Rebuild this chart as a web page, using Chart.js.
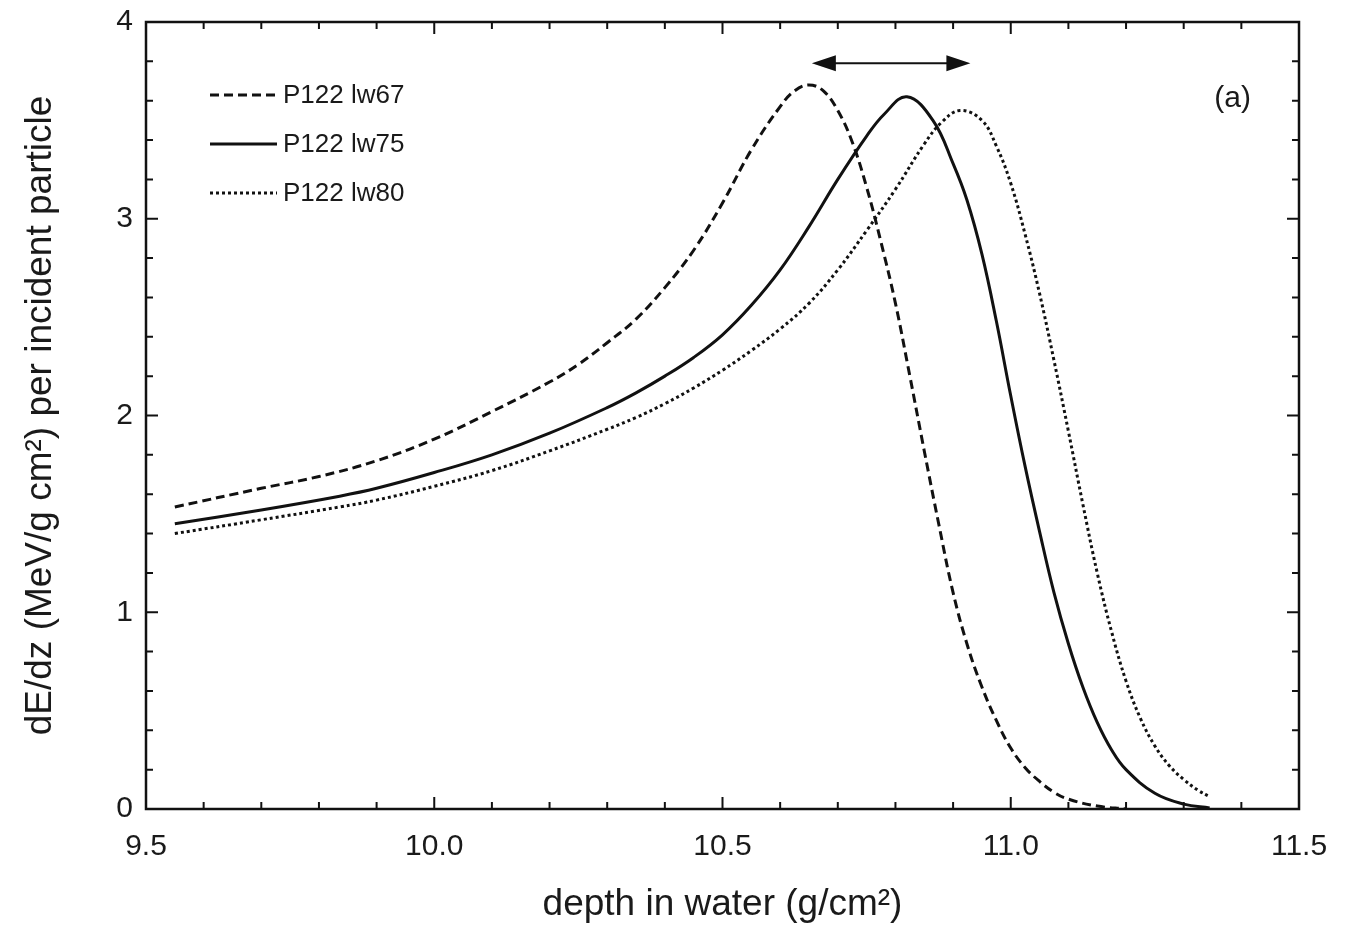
<!DOCTYPE html>
<html>
<head>
<meta charset="utf-8">
<script src="https://cdn.jsdelivr.net/npm/chart.js@4.4.0/dist/chart.umd.min.js"></script>
<style>
html, body { margin: 0; padding: 0; background: #fff; }
</style>
</head>
<body>
<canvas id="chart" width="1351" height="927"></canvas>
<script>
// dose curves, depth in g/cm2, dE/dz in MeV/(g cm2)
const seriesLabels = ['P122 lw67', 'P122 lw75', 'P122 lw80'];

const depth67 = [9.55, 9.7, 9.8, 9.9, 10.0, 10.1, 10.2, 10.25, 10.3, 10.35, 10.4, 10.45, 10.5, 10.55, 10.6, 10.625, 10.65, 10.675, 10.7, 10.725, 10.75, 10.775, 10.8, 10.825, 10.85, 10.875, 10.9, 10.925, 10.95, 10.975, 11.0, 11.025, 11.05, 11.075, 11.1, 11.15, 11.2];
const dose67  = [1.535, 1.63, 1.69, 1.77, 1.88, 2.02, 2.17, 2.26, 2.37, 2.49, 2.65, 2.84, 3.08, 3.35, 3.57, 3.65, 3.68, 3.65, 3.55, 3.39, 3.16, 2.88, 2.57, 2.2, 1.82, 1.45, 1.1, 0.83, 0.62, 0.45, 0.31, 0.21, 0.14, 0.085, 0.05, 0.015, 0.0];

const depth75 = [9.55, 9.7, 9.836, 9.9, 10.0, 10.1, 10.2, 10.3, 10.35, 10.4, 10.45, 10.5, 10.55, 10.6, 10.65, 10.7, 10.75, 10.78, 10.82, 10.865, 10.9, 10.924, 10.95, 10.975, 11.0, 11.025, 11.05, 11.075, 11.1, 11.125, 11.15, 11.175, 11.2, 11.25, 11.3, 11.345];
const dose75  = [1.45, 1.52, 1.59, 1.63, 1.71, 1.80, 1.91, 2.04, 2.115, 2.2, 2.295, 2.41, 2.56, 2.74, 2.96, 3.2, 3.42, 3.53, 3.62, 3.50, 3.28, 3.095, 2.82, 2.48, 2.1, 1.74, 1.41, 1.1, 0.84, 0.62, 0.44, 0.3, 0.2, 0.08, 0.025, 0.005];

const depth80 = [9.55, 9.7, 9.836, 9.9, 10.0, 10.1, 10.2, 10.3, 10.35, 10.4, 10.45, 10.5, 10.55, 10.6, 10.65, 10.7, 10.75, 10.8, 10.85, 10.88, 10.912, 10.95, 10.975, 11.0, 11.025, 11.05, 11.075, 11.1, 11.125, 11.15, 11.175, 11.2, 11.225, 11.25, 11.275, 11.3, 11.325, 11.345];
const dose80  = [1.40, 1.47, 1.535, 1.57, 1.64, 1.72, 1.82, 1.93, 1.99, 2.06, 2.14, 2.23, 2.33, 2.44, 2.57, 2.74, 2.94, 3.15, 3.38, 3.49, 3.55, 3.5, 3.37, 3.18, 2.92, 2.62, 2.28, 1.92, 1.55, 1.2, 0.9, 0.65, 0.46, 0.32, 0.22, 0.15, 0.095, 0.063];

const xTickLabels = ['9.5', '10.0', '10.5', '11.0', '11.5'];
const yTickLabels = ['0', '1', '2', '3', '4'];

// shift between the peaks, marked with a double arrow
const arrowSpan = [10.655, 10.93];
const arrowLevel = 3.79;

function zip(xs, ys) {
  return xs.map((v, i) => ({ x: v, y: ys[i] }));
}

const ink = '#111';
const font = 'Helvetica, "Liberation Sans", Arial, sans-serif';

const boxAndTicks = {
  id: 'boxAndTicks',
  afterDatasetsDraw(chart) {
    const { ctx, chartArea: a, scales: { x, y } } = chart;
    ctx.save();
    ctx.strokeStyle = ink;
    ctx.lineWidth = 2;
    ctx.beginPath();
    for (let i = 0; i <= 20; i++) {
      const px = x.getPixelForValue(9.5 + i * 0.1);
      const len = i % 5 === 0 ? 12 : 7;
      ctx.moveTo(px, a.bottom); ctx.lineTo(px, a.bottom - len);
      ctx.moveTo(px, a.top); ctx.lineTo(px, a.top + len);
    }
    for (let i = 0; i <= 20; i++) {
      const py = y.getPixelForValue(i * 0.2);
      const len = i % 5 === 0 ? 12 : 7;
      ctx.moveTo(a.left, py); ctx.lineTo(a.left + len, py);
      ctx.moveTo(a.right, py); ctx.lineTo(a.right - len, py);
    }
    ctx.stroke();
    ctx.lineWidth = 2.5;
    ctx.strokeRect(a.left, a.top, a.right - a.left, a.bottom - a.top);

    // legend
    ctx.font = '26px ' + font;
    ctx.fillStyle = '#1a1a1a';
    ctx.textBaseline = 'middle';
    chart.data.datasets.forEach((ds, i) => {
      const ly = 95 + i * 49;
      ctx.beginPath();
      ctx.lineWidth = ds.borderWidth;
      ctx.setLineDash(ds.borderDash || []);
      ctx.moveTo(210, ly); ctx.lineTo(277, ly);
      ctx.stroke();
      ctx.setLineDash([]);
      ctx.fillText(ds.label, 283, ly + 1);
    });

    ctx.font = '30px ' + font;
    ctx.textAlign = 'right';
    ctx.fillText('(a)', 1251, 99);

    // double arrow
    const x0 = x.getPixelForValue(arrowSpan[0]);
    const x1 = x.getPixelForValue(arrowSpan[1]);
    const ay = y.getPixelForValue(arrowLevel);
    const head = 24, half = 8;
    ctx.lineWidth = 2;
    ctx.beginPath();
    ctx.moveTo(x0 + head - 2, ay); ctx.lineTo(x1 - head + 2, ay);
    ctx.stroke();
    ctx.fillStyle = ink;
    ctx.beginPath();
    ctx.moveTo(x0, ay); ctx.lineTo(x0 + head, ay - half); ctx.lineTo(x0 + head, ay + half); ctx.closePath();
    ctx.moveTo(x1, ay); ctx.lineTo(x1 - head, ay - half); ctx.lineTo(x1 - head, ay + half); ctx.closePath();
    ctx.fill();
    ctx.restore();
  }
};

new Chart(document.getElementById('chart'), {
  type: 'scatter',
  data: {
    datasets: [
      { label: seriesLabels[0], data: zip(depth67, dose67), borderDash: [9, 5] },
      { label: seriesLabels[1], data: zip(depth75, dose75), borderDash: [] },
      { label: seriesLabels[2], data: zip(depth80, dose80), borderDash: [3, 3] }
    ].map(ds => Object.assign(ds, {
      showLine: true,
      borderColor: ink,
      borderWidth: 3,
      pointRadius: 0,
      tension: 0.4
    }))
  },
  options: {
    responsive: false,
    animation: false,
    devicePixelRatio: 1,
    layout: { padding: { top: 22, right: 52, left: 0, bottom: 0 } },
    plugins: { legend: { display: false }, tooltip: { enabled: false } },
    scales: {
      x: {
        type: 'linear',
        min: 9.5, max: 11.5,
        afterFit: s => { s.height = 118; s.paddingLeft = 0; s.paddingRight = 0; },
        grid: { display: false, drawTicks: false },
        border: { display: false },
        ticks: {
          stepSize: 0.5,
          padding: 20,
          color: '#1a1a1a',
          font: { size: 30, family: font },
          callback: (v, i) => xTickLabels[i]
        },
        title: {
          display: true,
          text: 'depth in water (g/cm²)',
          color: '#1a1a1a',
          font: { size: 37, family: font },
          padding: { top: 0, bottom: 0 }
        }
      },
      y: {
        min: 0, max: 4,
        afterFit: s => { s.width = 146; s.paddingTop = 0; s.paddingBottom = 0; },
        grid: { display: false, drawTicks: false },
        border: { display: false },
        ticks: {
          stepSize: 1,
          padding: 13,
          color: '#1a1a1a',
          font: { size: 30, family: font },
          callback: (v, i) => yTickLabels[i]
        },
        title: {
          display: true,
          text: 'dE/dz (MeV/g cm²) per incident particle',
          color: '#1a1a1a',
          font: { size: 37, family: font },
          padding: { top: 19, bottom: 0 }
        }
      }
    }
  },
  plugins: [boxAndTicks]
});
</script>
</body>
</html>
